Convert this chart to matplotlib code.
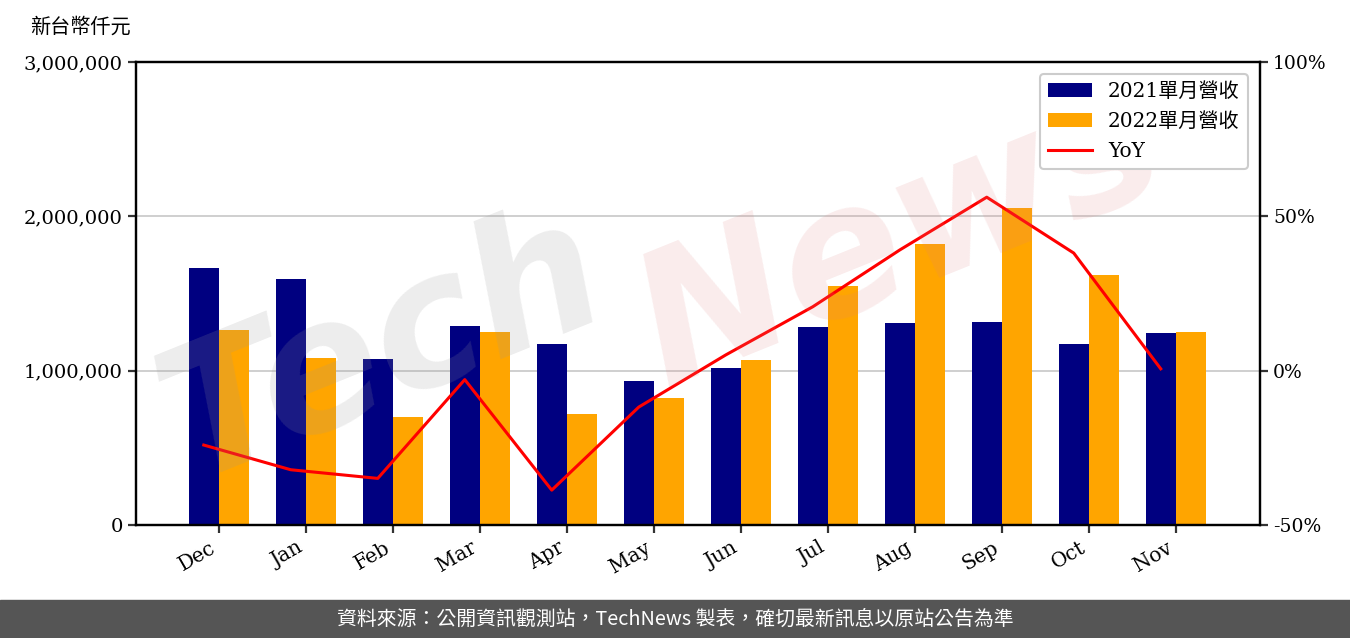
import matplotlib
matplotlib.use("Agg")
import matplotlib.pyplot as plt
from matplotlib.ticker import FuncFormatter, FixedLocator
import numpy as np

months = ["Dec", "Jan", "Feb", "Mar", "Apr", "May", "Jun", "Jul", "Aug", "Sep", "Oct", "Nov"]
rev_2021 = [1665000, 1594000, 1076000, 1289000, 1173000, 933000, 1017000, 1283000, 1309000, 1315000, 1173000, 1244000]
rev_2022 = [1264000, 1082000, 700000, 1251000, 719000, 823000, 1069000, 1549000, 1821000, 2054000, 1620000, 1251000]
yoy = [-24.1, -32.1, -34.9, -2.9, -38.7, -11.8, 5.1, 20.7, 39.1, 56.2, 38.1, 0.6]

label_2021 = "2021單月營收"
label_2022 = "2022單月營收"
label_yoy = "YoY"
unit_label = "新台幣仟元"
footer = "資料來源：公開資訊觀測站，TechNews 製表，確切最新訊息以原站公告為準"

SERIF = ["DejaVu Serif", "Noto Sans CJK TC"]
CJK = ["Noto Sans CJK TC", "DejaVu Sans"]

fig = plt.figure(figsize=(13.5, 6.38), dpi=100)
ax = fig.add_axes([136/1350, 1-525/638, (1260-136)/1350, (525-62)/638])
ax2 = ax.twinx()

x = np.arange(len(months))
w = 0.35
b1 = ax.bar(x - w/2, rev_2021, w, color="#000080", label=label_2021, zorder=2)
b2 = ax.bar(x + w/2, rev_2022, w, color="#FFA500", label=label_2022, zorder=2)
l1, = ax2.plot(x - w/2, yoy, color="red", lw=2.2, label=label_yoy, zorder=3)

ax.set_xlim(-0.954, 11.966)
ax.set_ylim(0, 3000000)
ax2.set_ylim(-50, 100)
ax.yaxis.set_major_locator(FixedLocator([0, 1000000, 2000000, 3000000]))
ax.yaxis.set_major_formatter(FuncFormatter(lambda v, p: f"{v:,.0f}"))
ax2.yaxis.set_major_locator(FixedLocator([-50, 0, 50, 100]))
ax2.yaxis.set_major_formatter(FuncFormatter(lambda v, p: f"{v:.0f}%"))
ax.set_xticks(x)
ax.set_xticklabels(months, rotation=30, ha="right", family=SERIF, fontsize=14.5)
for lab in ax.get_yticklabels():
    lab.set_family(SERIF); lab.set_fontsize(14)
for lab in ax2.get_yticklabels():
    lab.set_family(SERIF); lab.set_fontsize(13.5)

ax.grid(axis="y", color="#cccccc", lw=1.3, zorder=0)
for a in (ax, ax2):
    for s in a.spines.values():
        s.set_linewidth(1.6)
        s.set_color("black")
    a.tick_params(width=1.6, length=6, color="#333333")

fig.text(30/1350, 1-27/638, unit_label, family=CJK, fontsize=14.5, va="center", ha="left")

# watermark
ax2.text(0.22, 0.38, "Tech", transform=ax2.transAxes, fontsize=130, color="#999999",
         alpha=0.18, rotation=22, ha="center", va="center", style="italic",
         fontweight="bold", zorder=5)
ax2.text(0.68, 0.62, "News", transform=ax2.transAxes, fontsize=130, color="#e08080",
         alpha=0.15, rotation=22, ha="center", va="center", style="italic",
         fontweight="bold", zorder=5)

leg = ax2.legend([b1, b2, l1], [label_2021, label_2022, label_yoy], loc="upper right",
                 prop={"family": SERIF, "size": 14.5}, fancybox=True, framealpha=1,
                 borderaxespad=0.6, handlelength=2.2, handletextpad=0.8, labelspacing=0.55)
leg.set_zorder(10)
leg.get_frame().set_edgecolor("#cccccc")
leg.get_frame().set_linewidth(1.5)

# footer band
fig.patches.append(plt.Rectangle((0, 0), 1, 38/638, transform=fig.transFigure,
                                 color="#555555", zorder=0))
fig.text(0.5, 19/638, footer, family=CJK, fontsize=14.3, color="white",
         ha="center", va="center")

fig.savefig("out.png", dpi=100)
